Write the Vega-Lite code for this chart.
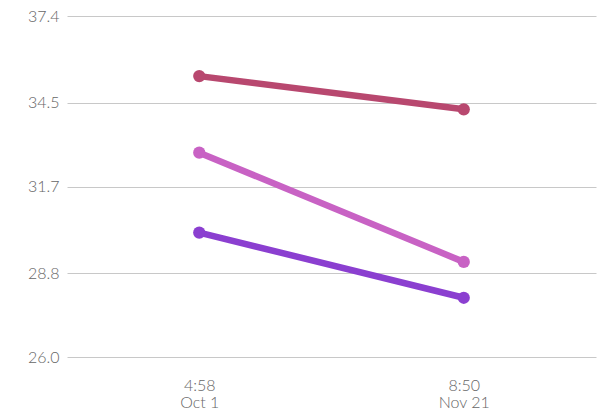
{
  "$schema": "https://vega.github.io/schema/vega-lite/v6.json",
  "autosize": {"type": "none"},
  "width": 529,
  "height": 341,
  "padding": {"left": 67, "top": 16, "right": 8, "bottom": 57},
  "background": "white",
  "config": {"view": {"stroke": null}},
  "data": {
    "values": [
      {"when": "4:58|Oct 1", "series": "A", "value": 35.39},
      {"when": "8:50|Nov 21", "series": "A", "value": 34.28},
      {"when": "4:58|Oct 1", "series": "B", "value": 32.83},
      {"when": "8:50|Nov 21", "series": "B", "value": 29.18},
      {"when": "4:58|Oct 1", "series": "C", "value": 30.16},
      {"when": "8:50|Nov 21", "series": "C", "value": 27.98}
    ]
  },
  "encoding": {
    "x": {
      "field": "when", "type": "ordinal",
      "scale": {"type": "point", "padding": 0.5},
      "axis": {
        "title": null, "domain": false, "ticks": false, "grid": false,
        "labelAngle": 0,
        "labelExpr": "split(datum.value, '|')",
        "labelFont": "Lato", "labelFontWeight": 300, "labelFontSize": 16,
        "labelColor": "#666666", "labelLineHeight": 17, "labelPadding": 20
      }
    },
    "y": {
      "field": "value", "type": "quantitative",
      "scale": {"domain": [26, 37.4], "nice": false, "zero": false},
      "axis": {
        "title": null, "domain": false, "ticks": false,
        "values": [26.0, 28.8, 31.7, 34.5, 37.4],
        "format": ".1f",
        "gridColor": "#c8c8c8", "gridWidth": 1,
        "labelFont": "Lato", "labelFontWeight": 300, "labelFontSize": 16,
        "labelColor": "#666666", "labelPadding": 8
      }
    },
    "color": {
      "field": "series", "type": "nominal",
      "scale": {"domain": ["A", "B", "C"], "range": ["#b8486f", "#c862c4", "#8b3fd0"]},
      "legend": null
    }
  },
  "layer": [
    {"mark": {"type": "line", "strokeWidth": 6.5, "strokeCap": "round"}},
    {"mark": {"type": "point", "filled": true, "opacity": 1, "size": 150}}
  ]
}
